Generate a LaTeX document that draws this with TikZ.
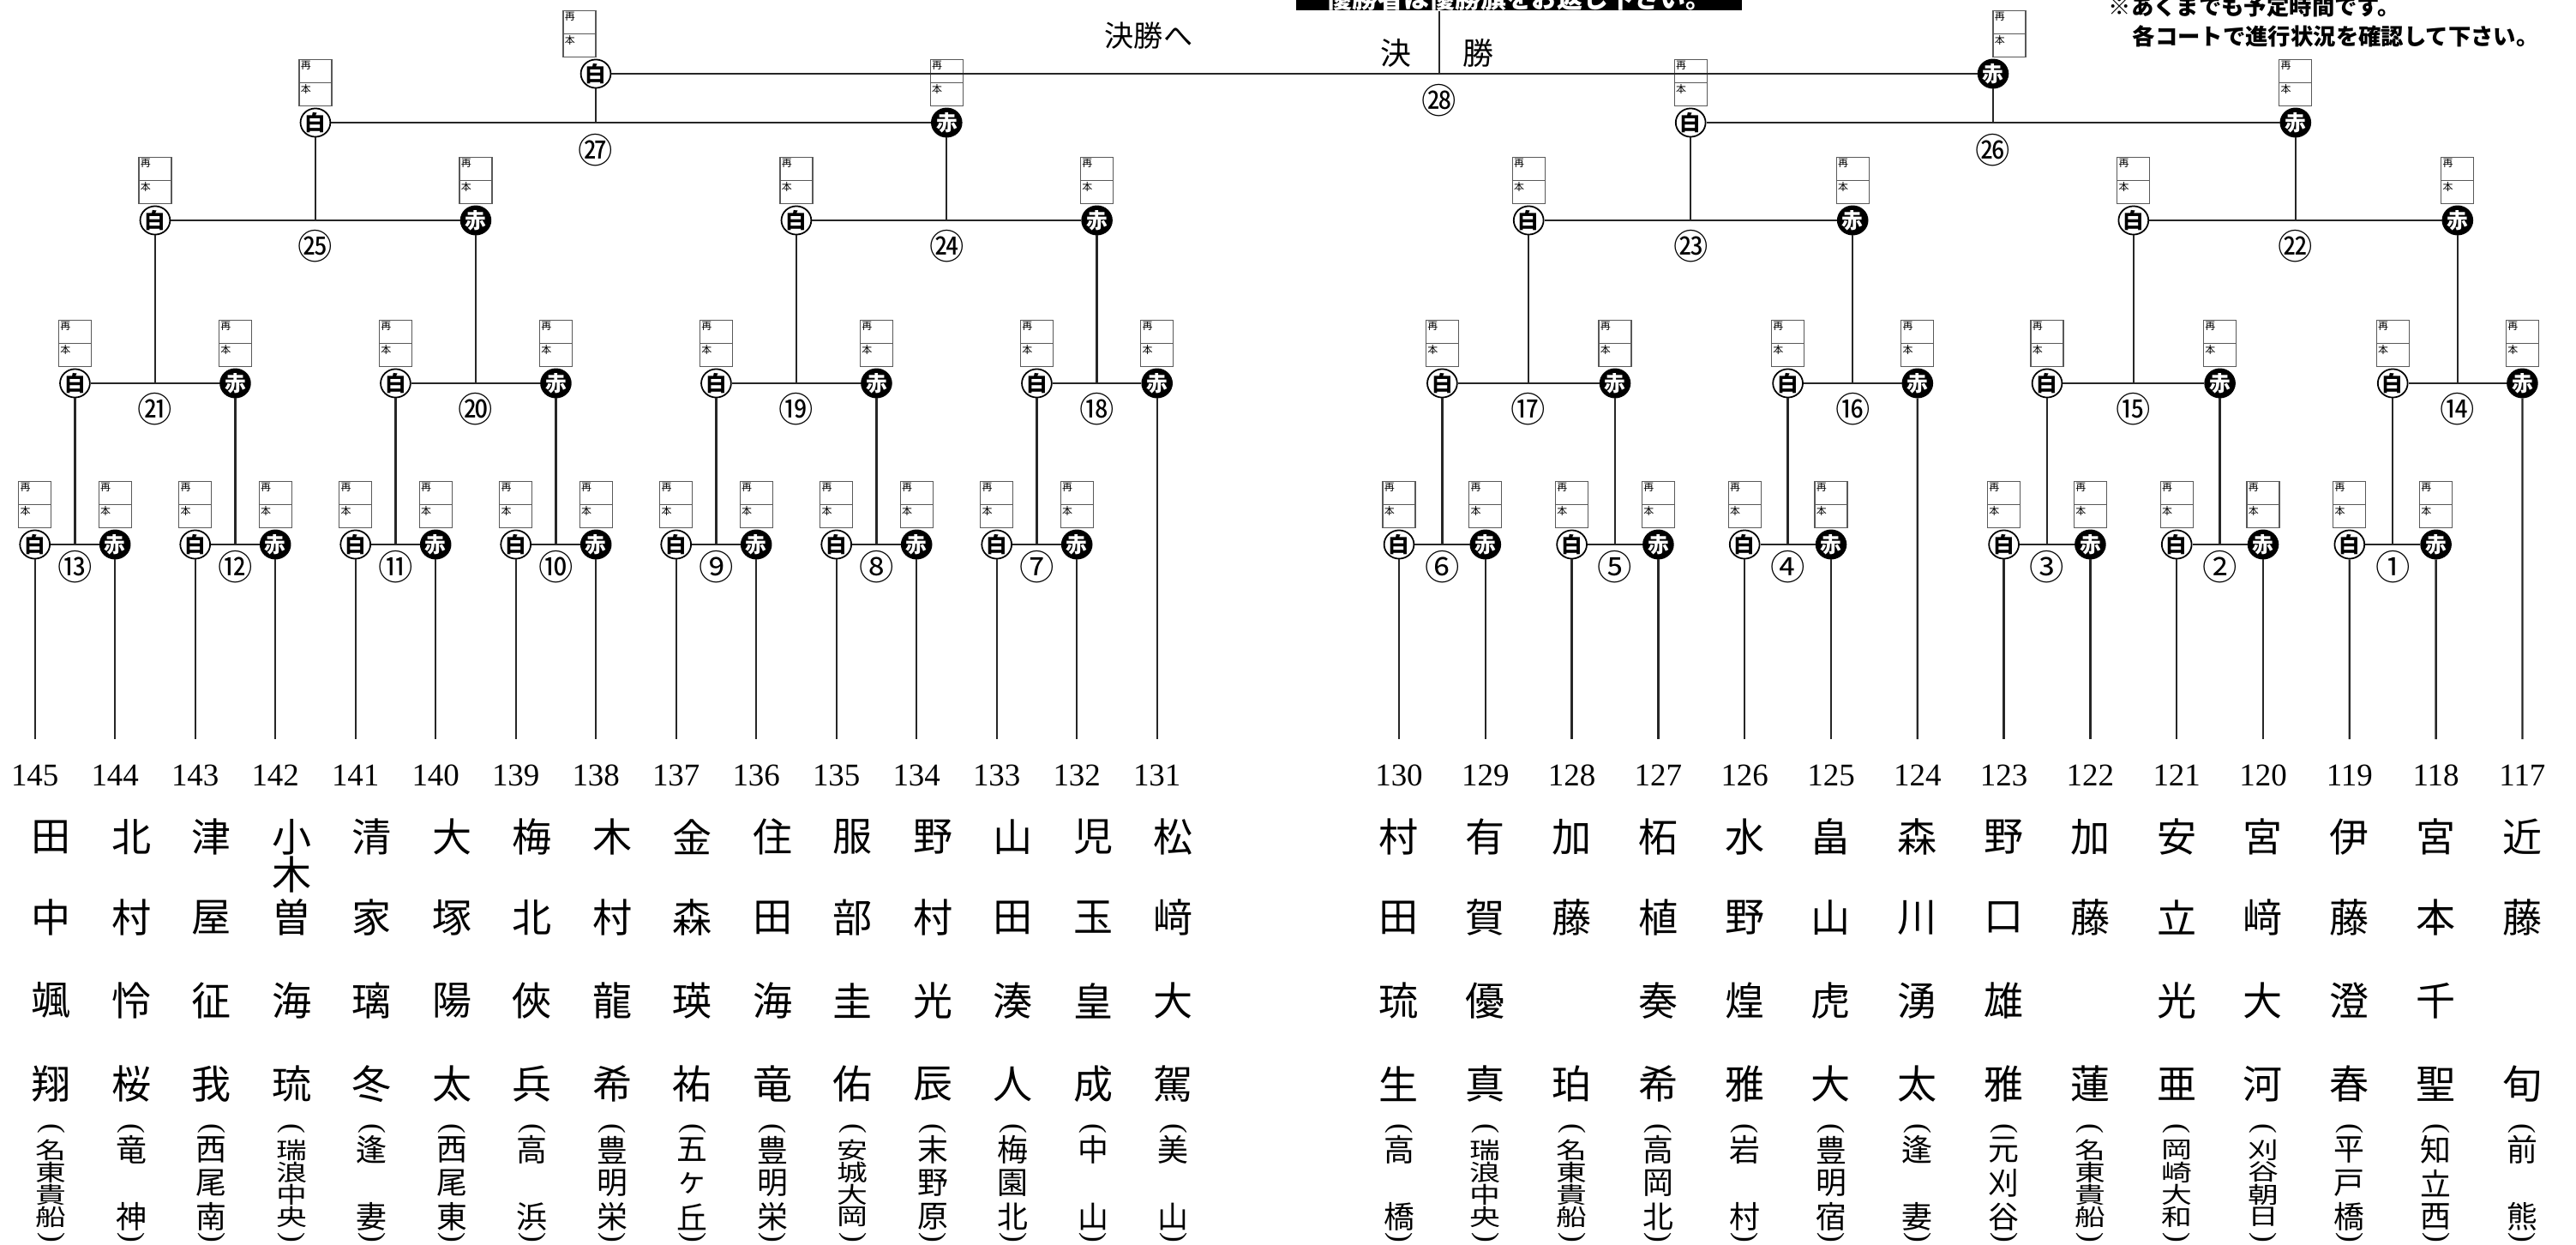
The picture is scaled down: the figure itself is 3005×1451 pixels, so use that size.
\documentclass[tikz,border=0pt]{standalone}
\usepackage{fontspec}
\setmainfont{Liberation Serif}
\newfontfamily\jp{Noto Sans CJK JP}
\usetikzlibrary{shapes.geometric, positioning}

\tikzstyle{bracket} = [draw=black!85, line width=0.65pt]
\tikzstyle{shiro} = [ellipse, draw=black, line width=0.5pt, fill=white, minimum width=0.29cm, minimum height=0.33cm, inner sep=0pt, font=\jp\bfseries\fontsize{7}{7}\selectfont]
\tikzstyle{aka} = [shiro, fill=black, text=white]
\tikzstyle{scorebox} = [rectangle, draw=black!65, line width=0.35pt, minimum width=0.38cm, minimum height=0.54cm, inner sep=0pt]
\tikzstyle{tiny} = [inner sep=0.5pt, font=\jp\fontsize{3.4}{3.4}\selectfont]
\tikzstyle{matchno} = [inner sep=0pt, font=\jp\fontsize{11.5}{11.5}\selectfont]
\tikzstyle{seed} = [inner sep=0pt, font=\fontsize{10.5}{10.5}\selectfont]
\tikzstyle{kanji} = [inner sep=0pt, font=\jp\fontsize{13.1}{13.1}\selectfont]
\tikzstyle{school} = [inner sep=0pt, font=\jp\fontsize{10.2}{10.2}\selectfont]
\tikzstyle{paren} = [inner sep=0pt, rotate=-90, font=\fontsize{10}{10}\selectfont]

% slot: name, x, y, style, letter, box shift
\newcommand{\slotnode}[6]{%
  \node (#1) [#4] at (#2,#3) {#5};
  \node (#1b) [scorebox, anchor=south, xshift=#6*0.01cm] at (#2,#3-19) {};
  \draw [draw=black!65, line width=0.35pt] (#1b.west) -- (#1b.east);
  \node (#1t) [tiny, anchor=north west] at (#1b.north west) {再};
  \node (#1h) [tiny, anchor=north west] at (#1b.west) {本};
}

% entry: number, x, four name chars, school length, school chars
\newcommand{\entry}[8]{%
  \node (#1a) [kanji] at (#2,976) {#3};
  \node (#1b) [kanji] at (#2,1070) {#4};
  \node (#1c) [kanji] at (#2,1167) {#5};
  \node (#1d) [kanji] at (#2,1264) {#6};
  \node (#1o) [paren] at (#2,1316) {(};
  \node (#1e) [paren] at (#2,1443) {)};
  \foreach \t [count=\k from 0] in {#8} {
    \pgfmathsetmacro\yy{1341+\k*78/(#7-1)}
    \node (#1s\k) [school] at (#2,\yy) {\ifnum#7>3 \scalebox{1}[0.74]{\t}\else\t\fi};
  }
}

\begin{document}
\begin{tikzpicture}[x=0.01cm, y=-0.01cm]
\path [use as bounding box, clip] (0,0) rectangle (3005,1451);

% Top texts
\node (notice) [fill=black, text=white, font=\jp\bfseries\fontsize{8.5}{8.5}\selectfont, minimum width=5.2cm, inner ysep=0pt, anchor=south] at (1772,13) {優勝者は優勝旗をお返し下さい。};
\coordinate (fintop) at (1679,13);
\node (kes) [font=\jp\fontsize{10.2}{10.2}\selectfont] at (1628,62) {決};
\node (sho) [font=\jp\fontsize{10.2}{10.2}\selectfont] at (1724,62) {勝};
\node (tofinal) [font=\jp\fontsize{9.7}{9.7}\selectfont] at (1340,42) {決勝へ};
\node (memo1) [anchor=west, inner sep=0pt, font=\jp\bfseries\fontsize{7.5}{7.5}\selectfont] at (2459,8) {※あくまでも予定時間です。};
\node (memo2) [anchor=west, inner sep=0pt, font=\jp\bfseries\fontsize{7.5}{7.5}\selectfont] at (2487,42) {各コートで進行状況を確認して下さい。};

% Leaves and numbers
\foreach \i in {0,...,14} {
  \pgfmathsetmacro\xx{40.7+93.5*\i}
  \pgfmathtruncatemacro\nn{145-\i}
  \coordinate (p\nn) at (\xx,862);
  \node (n\nn) [seed] at (\xx,904) {\nn};
}
\foreach \i in {0,...,13} {
  \pgfmathsetmacro\xx{1632+100.8*\i}
  \pgfmathtruncatemacro\nn{130-\i}
  \coordinate (p\nn) at (\xx,862);
  \node (n\nn) [seed] at (\xx,904) {\nn};
}

% Slots, left half
\slotnode{m13w}{40.7}{635}{shiro}{白}{0}
\slotnode{m13r}{134.2}{635}{aka}{赤}{0}
\slotnode{m12w}{227.7}{635}{shiro}{白}{0}
\slotnode{m12r}{321.2}{635}{aka}{赤}{0}
\slotnode{m11w}{414.7}{635}{shiro}{白}{0}
\slotnode{m11r}{508.2}{635}{aka}{赤}{0}
\slotnode{m10w}{601.7}{635}{shiro}{白}{0}
\slotnode{m10r}{695.2}{635}{aka}{赤}{0}
\slotnode{m9w}{788.7}{635}{shiro}{白}{0}
\slotnode{m9r}{882.2}{635}{aka}{赤}{0}
\slotnode{m8w}{975.7}{635}{shiro}{白}{0}
\slotnode{m8r}{1069.2}{635}{aka}{赤}{0}
\slotnode{m7w}{1162.7}{635}{shiro}{白}{0}
\slotnode{m7r}{1256.2}{635}{aka}{赤}{0}
\slotnode{m21w}{87.45}{447}{shiro}{白}{0}
\slotnode{m21r}{274.45}{447}{aka}{赤}{0}
\slotnode{m20w}{461.45}{447}{shiro}{白}{0}
\slotnode{m20r}{648.45}{447}{aka}{赤}{0}
\slotnode{m19w}{835.45}{447}{shiro}{白}{0}
\slotnode{m19r}{1022.45}{447}{aka}{赤}{0}
\slotnode{m18w}{1209.45}{447}{shiro}{白}{0}
\slotnode{m18r}{1349.7}{447}{aka}{赤}{0}
\slotnode{m25w}{180.95}{257}{shiro}{白}{0}
\slotnode{m25r}{554.95}{257}{aka}{赤}{0}
\slotnode{m24w}{928.95}{257}{shiro}{白}{0}
\slotnode{m24r}{1279.6}{257}{aka}{赤}{0}
\slotnode{m27w}{367.95}{143}{shiro}{白}{0}
\slotnode{m27r}{1104.3}{143}{aka}{赤}{0}
\slotnode{m28w}{695}{86}{shiro}{白}{-19}

% Slots, right half
\slotnode{m6w}{1632}{635}{shiro}{白}{0}
\slotnode{m6r}{1732.8}{635}{aka}{赤}{0}
\slotnode{m5w}{1833.6}{635}{shiro}{白}{0}
\slotnode{m5r}{1934.4}{635}{aka}{赤}{0}
\slotnode{m4w}{2035.2}{635}{shiro}{白}{0}
\slotnode{m4r}{2136}{635}{aka}{赤}{0}
\slotnode{m3w}{2337.6}{635}{shiro}{白}{0}
\slotnode{m3r}{2438.4}{635}{aka}{赤}{0}
\slotnode{m2w}{2539.2}{635}{shiro}{白}{0}
\slotnode{m2r}{2640}{635}{aka}{赤}{0}
\slotnode{m1w}{2740.8}{635}{shiro}{白}{0}
\slotnode{m1r}{2841.6}{635}{aka}{赤}{0}
\slotnode{m17w}{1682.4}{447}{shiro}{白}{0}
\slotnode{m17r}{1884}{447}{aka}{赤}{0}
\slotnode{m16w}{2085.6}{447}{shiro}{白}{0}
\slotnode{m16r}{2236.8}{447}{aka}{赤}{0}
\slotnode{m15w}{2388}{447}{shiro}{白}{0}
\slotnode{m15r}{2589.6}{447}{aka}{赤}{0}
\slotnode{m14w}{2791.2}{447}{shiro}{白}{0}
\slotnode{m14r}{2942.4}{447}{aka}{赤}{0}
\slotnode{m23w}{1783.2}{257}{shiro}{白}{0}
\slotnode{m23r}{2161.2}{257}{aka}{赤}{0}
\slotnode{m22w}{2488.8}{257}{shiro}{白}{0}
\slotnode{m22r}{2866.8}{257}{aka}{赤}{0}
\slotnode{m26w}{1972.2}{143}{shiro}{白}{0}
\slotnode{m26r}{2677.8}{143}{aka}{赤}{0}
\slotnode{m28r}{2325}{86}{aka}{赤}{19}

% Match lines
\foreach \m in {1,...,28}
  \draw [bracket] (m\m w) -- (m\m r);

% Leaf lines
\draw [bracket] (m13w) -- (p145);
\draw [bracket] (m13r) -- (p144);
\draw [bracket] (m12w) -- (p143);
\draw [bracket] (m12r) -- (p142);
\draw [bracket] (m11w) -- (p141);
\draw [bracket] (m11r) -- (p140);
\draw [bracket] (m10w) -- (p139);
\draw [bracket] (m10r) -- (p138);
\draw [bracket] (m9w) -- (p137);
\draw [bracket] (m9r) -- (p136);
\draw [bracket] (m8w) -- (p135);
\draw [bracket] (m8r) -- (p134);
\draw [bracket] (m7w) -- (p133);
\draw [bracket] (m7r) -- (p132);
\draw [bracket] (m18r) -- (p131);
\draw [bracket] (m6w) -- (p130);
\draw [bracket] (m6r) -- (p129);
\draw [bracket] (m5w) -- (p128);
\draw [bracket] (m5r) -- (p127);
\draw [bracket] (m4w) -- (p126);
\draw [bracket] (m4r) -- (p125);
\draw [bracket] (m16r) -- (p124);
\draw [bracket] (m3w) -- (p123);
\draw [bracket] (m3r) -- (p122);
\draw [bracket] (m2w) -- (p121);
\draw [bracket] (m2r) -- (p120);
\draw [bracket] (m1w) -- (p119);
\draw [bracket] (m1r) -- (p118);
\draw [bracket] (m14r) -- (p117);

% Risers
\foreach \up/\down in {m21w/m13w, m21r/m12w, m20w/m11w, m20r/m10w, m19w/m9w, m19r/m8w, m18w/m7w,
    m25w/m21w, m25r/m20w, m24w/m19w, m24r/m18w, m27w/m25w, m27r/m24w, m28w/m27w,
    m17w/m6w, m17r/m5w, m16w/m4w, m15w/m3w, m15r/m2w, m14w/m1w,
    m23w/m17w, m23r/m16w, m22w/m15w, m22r/m14w, m26w/m23w, m26r/m22w, m28r/m26w}
  \draw [bracket] (\up) -- (\up |- \down);
\draw [bracket] (fintop) -- (fintop |- m28w);

% Match numbers
\node (l13) [matchno, yshift=-0.26cm] at (m21w |- m13w) {⑬};
\node (l12) [matchno, yshift=-0.26cm] at (m21r |- m12w) {⑫};
\node (l11) [matchno, yshift=-0.26cm] at (m20w |- m11w) {⑪};
\node (l10) [matchno, yshift=-0.26cm] at (m20r |- m10w) {⑩};
\node (l9) [matchno, yshift=-0.26cm] at (m19w |- m9w) {⑨};
\node (l8) [matchno, yshift=-0.26cm] at (m19r |- m8w) {⑧};
\node (l7) [matchno, yshift=-0.26cm] at (m18w |- m7w) {⑦};
\node (l6) [matchno, yshift=-0.26cm] at (m17w |- m6w) {⑥};
\node (l5) [matchno, yshift=-0.26cm] at (m17r |- m5w) {⑤};
\node (l4) [matchno, yshift=-0.26cm] at (m16w |- m4w) {④};
\node (l3) [matchno, yshift=-0.26cm] at (m15w |- m3w) {③};
\node (l2) [matchno, yshift=-0.26cm] at (m15r |- m2w) {②};
\node (l1) [matchno, yshift=-0.26cm] at (m14w |- m1w) {①};
\node (l21) [matchno, yshift=-0.30cm] at (m25w |- m21w) {㉑};
\node (l20) [matchno, yshift=-0.30cm] at (m25r |- m20w) {⑳};
\node (l19) [matchno, yshift=-0.30cm] at (m24w |- m19w) {⑲};
\node (l18) [matchno, yshift=-0.30cm] at (m24r |- m18w) {⑱};
\node (l17) [matchno, yshift=-0.30cm] at (m23w |- m17w) {⑰};
\node (l16) [matchno, yshift=-0.30cm] at (m23r |- m16w) {⑯};
\node (l15) [matchno, yshift=-0.30cm] at (m22w |- m15w) {⑮};
\node (l14) [matchno, yshift=-0.30cm] at (m22r |- m14w) {⑭};
\node (l25) [matchno, yshift=-0.30cm] at (m27w |- m25w) {㉕};
\node (l24) [matchno, yshift=-0.30cm] at (m27r |- m24w) {㉔};
\node (l23) [matchno, yshift=-0.30cm] at (m26w |- m23w) {㉓};
\node (l22) [matchno, yshift=-0.30cm] at (m26r |- m22w) {㉒};
\node (l27) [matchno, yshift=-0.32cm] at (m28w |- m27w) {㉗};
\node (l26) [matchno, yshift=-0.32cm] at (m28r |- m26w) {㉖};
\node (l28) [matchno, yshift=-0.31cm] at (fintop |- m28w) {㉘};

% Players, left half
\entry{145}{59.7}{田}{中}{颯}{翔}{4}{名,東,貴,船}
\entry{144}{153.2}{北}{村}{怜}{桜}{2}{竜,神}
\entry{143}{246.7}{津}{屋}{征}{我}{3}{西,尾,南}
\entry{142}{340.2}{小}{曽}{海}{琉}{4}{瑞,浪,中,央}
\node (142k) [kanji] at (340.2,1020) {木};
\entry{141}{433.7}{清}{家}{璃}{冬}{2}{逢,妻}
\entry{140}{527.2}{大}{塚}{陽}{太}{3}{西,尾,東}
\entry{139}{620.7}{梅}{北}{俠}{兵}{2}{高,浜}
\entry{138}{714.2}{木}{村}{龍}{希}{3}{豊,明,栄}
\entry{137}{807.7}{金}{森}{瑛}{祐}{3}{五,ヶ,丘}
\entry{136}{901.2}{住}{田}{海}{竜}{3}{豊,明,栄}
\entry{135}{994.7}{服}{部}{圭}{佑}{4}{安,城,大,岡}
\entry{134}{1088.2}{野}{村}{光}{辰}{3}{末,野,原}
\entry{133}{1181.7}{山}{田}{湊}{人}{3}{梅,園,北}
\entry{132}{1275.2}{児}{玉}{皇}{成}{2}{中,山}
\entry{131}{1368.7}{松}{﨑}{大}{駕}{2}{美,山}

% Players, right half
\entry{130}{1632}{村}{田}{琉}{生}{2}{高,橋}
\entry{129}{1732.8}{有}{賀}{優}{真}{4}{瑞,浪,中,央}
\entry{128}{1833.6}{加}{藤}{}{珀}{4}{名,東,貴,船}
\entry{127}{1934.4}{柘}{植}{奏}{希}{3}{高,岡,北}
\entry{126}{2035.2}{水}{野}{煌}{雅}{2}{岩,村}
\entry{125}{2136}{畠}{山}{虎}{大}{3}{豊,明,宿}
\entry{124}{2236.8}{森}{川}{湧}{太}{2}{逢,妻}
\entry{123}{2337.6}{野}{口}{雄}{雅}{3}{元,刈,谷}
\entry{122}{2438.4}{加}{藤}{}{蓮}{4}{名,東,貴,船}
\entry{121}{2539.2}{安}{立}{光}{亜}{4}{岡,崎,大,和}
\entry{120}{2640}{宮}{﨑}{大}{河}{4}{刈,谷,朝,日}
\entry{119}{2740.8}{伊}{藤}{澄}{春}{3}{平,戸,橋}
\entry{118}{2841.6}{宮}{本}{千}{聖}{3}{知,立,西}
\entry{117}{2942.4}{近}{藤}{}{旬}{2}{前,熊}

\end{tikzpicture}
\end{document}
